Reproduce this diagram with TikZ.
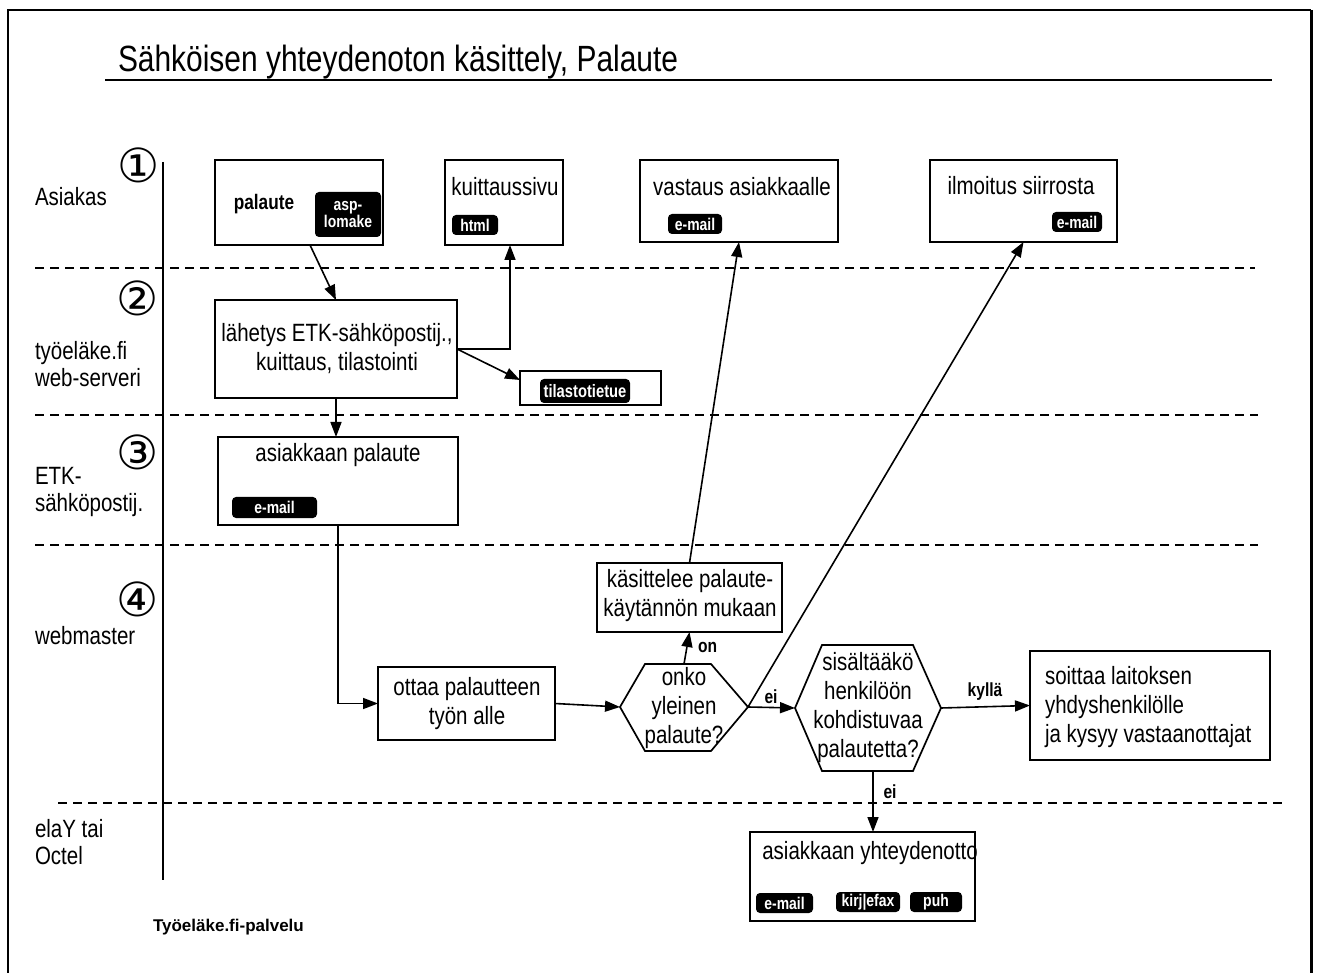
\documentclass[tikz,border=0pt]{standalone}
\usepackage{fontspec}
\setmainfont{Liberation Sans}[FakeStretch=0.82]
\newfontfamily\circfont{DejaVu Sans}
\newfontfamily\widefont{Liberation Sans}
\usetikzlibrary{arrows.meta,calc}
\begin{document}
\begin{tikzpicture}[x=1pt,y=-1pt,
  every node/.style={inner sep=0pt, outer sep=0pt},
  box/.style={draw, line width=1.7pt, rectangle},
  txt/.style={font=\fontsize{25}{29}\selectfont, align=center},
  lane/.style={font=\fontsize{25}{27}\selectfont, anchor=west, align=left},
  circnum/.style={font=\circfont\fontsize{47}{47}\selectfont},
  tag/.style={fill=black, text=white, rounded corners=4pt, font=\fontsize{17}{17}\selectfont\bfseries, align=center},
  lbl/.style={font=\fontsize{19}{19}\selectfont\bfseries},
  conn/.style={line width=1.6pt, -{Triangle[length=15pt,width=11pt]}},
  lanesep/.style={line width=1.5pt, dash pattern=on 9pt off 6pt},
  hexa/.style={draw, line width=1.7pt, line join=miter}
]
\useasboundingbox (0,0) rectangle (1318,973);
% frame
\draw[line width=1.5pt] (8,973) -- (8,10) -- (1311,10);
\draw[line width=3pt] (1311,10) -- (1311,973);
% title
\node[font=\fontsize{36.5}{36.5}\selectfont, anchor=base west] (title) at (118,72) {Sähköisen yhteydenoton käsittely, Palaute};
\draw[line width=1.5pt] (105,80) -- (1272,80);
% lanes
\draw[line width=1.2pt] (163,162) -- (163,880);
\draw[lanesep] (35,268) -- (1255,268);
\draw[lanesep] (35,415) -- (1258,415);
\draw[lanesep] (35,545) -- (1258,545);
\draw[lanesep] (58,803) -- (1282,803);
\node[circnum] (n1) at (139,165) {①};
\node[circnum] (n2) at (138,298) {②};
\node[circnum] (n3) at (138,452) {③};
\node[circnum] (n4) at (138,599) {④};
\node[lane] (l1) at (35,197) {Asiakas};
\node[lane] (l2) at (35,364) {työeläke.fi\\web-serveri};
\node[lane] (l3) at (35,492) {ETK-\\sähköpostij.};
\node[lane] (l4) at (35,636) {webmaster};
\node[lane] (l5) at (35,842) {elaY tai\\Octel};
% lane 1 boxes
\node[box, minimum width=168pt, minimum height=85pt] (palaute) at (299,202.5) {};
\node[font=\fontsize{21}{21}\selectfont\bfseries] (palauteT) at (264,204) {palaute};
\node[tag, minimum width=66pt, minimum height=45pt] (asp) at (348,214.5) {asp-\\lomake};
\node[box, minimum width=118pt, minimum height=85pt] (kuittaus) at (504,202.5) {};
\node[txt] (kuittausT) at (505,187) {kuittaussivu};
\node[tag, minimum width=46pt, minimum height=20pt] (html) at (475,225) {html};
\node[box, minimum width=198pt, minimum height=82pt] (vastaus) at (739,201) {};
\node[txt] (vastausT) at (742,187) {vastaus asiakkaalle};
\node[tag, minimum width=54pt, minimum height=20pt] (vmail) at (695,224) {e-mail};
\node[box, minimum width=187pt, minimum height=82pt] (ilmoitus) at (1023.5,201) {};
\node[txt] (ilmoitusT) at (1021,186) {ilmoitus siirrosta};
\node[tag, minimum width=50pt, minimum height=20pt] (imail) at (1077,222) {e-mail};
% lane 2
\node[box, minimum width=242pt, minimum height=98pt] (lahetys) at (336,349) {};
\node[txt] (lahetysT) at (337,349) {lähetys ETK-sähköpostij.,\\kuittaus, tilastointi};
\node[box, minimum width=141pt, minimum height=34pt] (tilasto) at (590.5,388) {};
\node[tag, minimum width=90pt, minimum height=24pt, font=\fontsize{18}{18}\selectfont\bfseries] (tilastoT) at (585,391) {tilastotietue};
% lane 3
\node[box, minimum width=240pt, minimum height=88pt] (apal) at (338,481) {};
\node[txt] (apalT) at (338,455) {asiakkaan palaute};
\node[tag, minimum width=85pt, minimum height=21pt] (amail) at (274.5,507.5) {e-mail};
% lane 4
\node[box, minimum width=185pt, minimum height=69pt] (kasit) at (689.5,597.5) {};
\node[txt] (kasitT) at (690,596) {käsittelee palaute-\\käytännön mukaan};
\node[box, minimum width=177pt, minimum height=73pt] (ottaa) at (466.5,703.5) {};
\node[txt] (ottaaT) at (467,704) {ottaa palautteen\\työn alle};
% hexagon onko
\coordinate (onkoL) at (620,707);
\coordinate (onkoTL) at (645,664);
\coordinate (onkoTR) at (711,664);
\coordinate (onkoR) at (748,707);
\coordinate (onkoBR) at (711,751);
\coordinate (onkoBL) at (645,751);
\coordinate (onkoTop) at (684,664);
\draw[hexa] (onkoL) -- (onkoTL) -- (onkoTR) -- (onkoR) -- (onkoBR) -- (onkoBL) -- cycle;
\node[txt] (onkoT) at (684,708) {onko\\yleinen\\palaute?};
% hexagon sisaltaako
\coordinate (sisL) at (795,708);
\coordinate (sisTL) at (822,645);
\coordinate (sisTR) at (913,645);
\coordinate (sisR) at (941,708);
\coordinate (sisBR) at (913,771);
\coordinate (sisBL) at (822,771);
\coordinate (sisB) at (873,771);
\draw[hexa] (sisL) -- (sisTL) -- (sisTR) -- (sisR) -- (sisBR) -- (sisBL) -- cycle;
\node[txt] (sisT) at (868,708) {sisältääkö\\henkilöön\\kohdistuvaa\\palautetta?};
\node[box, minimum width=240pt, minimum height=109pt] (soittaa) at (1150,705.5) {};
\node[txt, anchor=west, align=left] (soittaaT) at (1045,707) {soittaa laitoksen\\yhdyshenkilölle\\ja kysyy vastaanottajat};
% lane 5
\node[box, minimum width=225pt, minimum height=89pt] (yht) at (862.5,876.5) {};
\node[txt] (yhtT) at (870,853) {asiakkaan yhteydenotto};
\node[tag, minimum width=57pt, minimum height=20pt] (ymail) at (784.5,903) {e-mail};
\node[tag, minimum width=64pt, minimum height=20pt] (ykirje) at (868,902) {kirj\textbar efax};
\node[tag, minimum width=52pt, minimum height=20pt] (ypuh) at (936,902) {puh};
% footer
\node[font=\widefont\fontsize{17}{17}\selectfont\bfseries, anchor=west] (footer) at (153,927) {Työeläke.fi-palvelu};
% connectors
\draw[conn] ($(palaute.south)+(11,0)$) -- (lahetys.north);
\draw[conn] (lahetys.east) -| ($(kuittaus.south)+(6,0)$);
\draw[conn] (lahetys.east) -- ($(tilasto.west)+(0,-8)$);
\draw[conn] (lahetys.south) -- (lahetys.south |- apal.north);
\draw[conn] (apal.south) |- (ottaa.west);
\draw[conn] (ottaa.east) -- (onkoL);
\draw[conn] (onkoTop) -- (kasit.south);
\node[lbl, anchor=west] (onL) at (698,647) {on};
\draw[conn] (kasit.north) -- (vastaus.south);
\draw[conn] (onkoR) -- (ilmoitus.south);
\draw[conn] (onkoR) -- (sisL);
\node[lbl] (eiL1) at (771,697) {ei};
\draw[conn] (sisR) -- (soittaa.west);
\node[lbl] (kyllaL) at (985,692) {kyllä};
\draw[conn] (sisB) -- (sisB |- yht.north);
\node[lbl] (eiL2) at (890,792) {ei};
\end{tikzpicture}
\end{document}
